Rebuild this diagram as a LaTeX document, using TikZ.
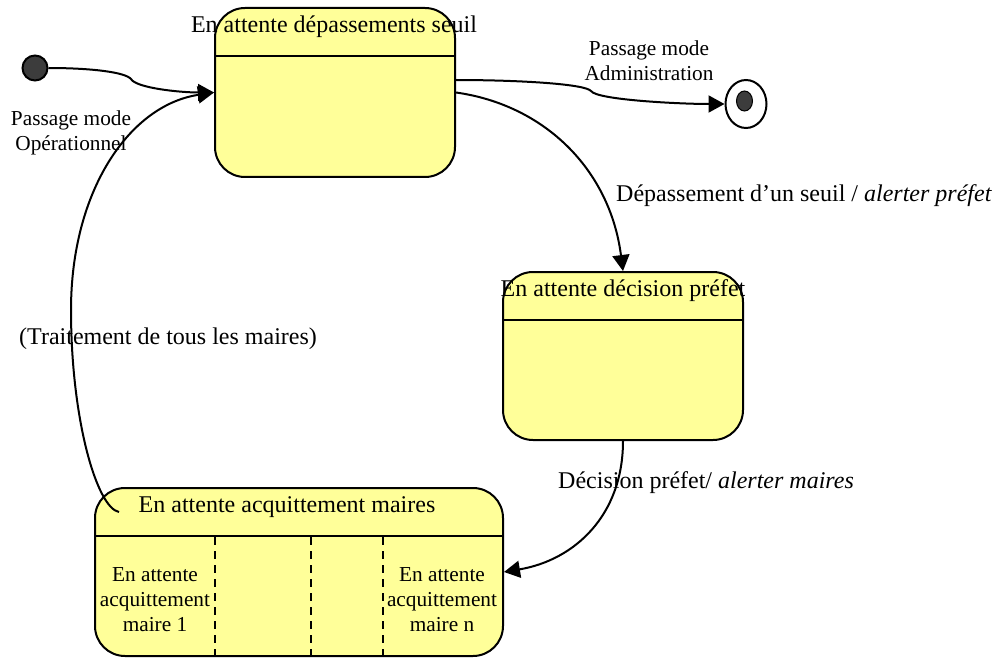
\documentclass[tikz,border=0pt]{standalone}
\usepackage{fontspec}
\setmainfont{Liberation Serif}
\usetikzlibrary{arrows.meta,shapes.geometric}
\definecolor{statefill}{HTML}{FFFF99}
\definecolor{dotfill}{HTML}{3C3C3C}
\tikzset{
  statebox/.style={draw=black,line width=2pt,fill=statefill,rounded corners=30pt,inner sep=0pt,minimum width=240pt},
  divider/.style={line width=2pt},
  pardiv/.style={line width=2pt,dash pattern=on 8pt off 6pt},
  link/.style={line width=2pt,-{Triangle[length=16pt,width=17pt]}},
  big/.style={font=\fontsize{24}{25}\selectfont,inner sep=0pt,anchor=center},
  small/.style={font=\fontsize{21.3}{25}\selectfont,inner sep=0pt,align=center,anchor=center}
}
\begin{document}
\begin{tikzpicture}[x=1pt,y=-1pt]
\useasboundingbox (0,0) rectangle (997,658);
% states
\node[statebox,minimum height=169pt] (attente) at (335,92.5) {};
\node[statebox,minimum height=168pt] (prefet) at (623,356) {};
\node[statebox,minimum width=408pt,minimum height=168pt] (maires) at (299,572) {};
% pseudo states
\node[draw=black,line width=2pt,fill=dotfill,circle,minimum size=25pt,inner sep=0pt] (init) at (35,68) {};
\node[draw=black,line width=2pt,fill=white,ellipse,minimum width=41pt,minimum height=48pt,inner sep=0pt] (fin) at (746,104) {};
\node[draw=black,line width=1pt,fill=dotfill,ellipse,minimum width=16pt,minimum height=20pt,inner sep=0pt] (findot) at (744.5,101) {};
% dividers
\coordinate (a1) at (215,56); \coordinate (a2) at (455,56);
\coordinate (p1) at (503,320); \coordinate (p2) at (743,320);
\coordinate (m1) at (95,536); \coordinate (m2) at (503,536);
\draw[divider] (a1) -- (a2);
\draw[divider] (p1) -- (p2);
\draw[divider] (m1) -- (m2);
\foreach \x in {215,311,383} \draw[pardiv] (\x,537) -- (\x,656);
% connectors
\coordinate (adminstart) at (455,80);
\coordinate (retour) at (119,512);
\draw[link] (init.east) .. controls (90,68) and (125,72) .. (131,79) .. controls (136,88) and (180,92.5) .. (attente.west);
\draw[link] (adminstart) .. controls (520,80) and (585,84) .. (591,91) .. controls (597,100) and (680,104) .. (fin.west);
\draw[link] (attente.east) .. controls (545,105) and (610,170) .. (prefet.north);
\draw[link] (prefet.south) .. controls (623,515) and (575,560) .. (maires.east);
\draw[link] (retour) .. controls (97,508) and (71,420) .. (71,310) .. controls (71,190) and (130,105) .. (attente.west);
% texts
\node[big] (t1) at (334,27) {En attente dépassements seuil};
\node[big] (t2) at (623,291) {En attente décision préfet};
\node[big] (t3) at (287,507) {En attente acquittement maires};
\node[small] (l1) at (71,132.5) {Passage mode\\Opérationnel};
\node[small] (l2) at (649,60.5) {Passage mode\\Administration};
\node[big,anchor=west] (l3) at (616,196) {Dépassement d’un seuil / \textit{alerter préfet}};
\node[big,anchor=west] (l4) at (19,339) {(Traitement de tous les maires)};
\node[big,anchor=west] (l5) at (558,483) {Décision préfet/ \textit{alerter maires}};
\node[small] (c1) at (155,600) {En attente\\acquittement\\maire 1};
\node[small] (c2) at (442,600) {En attente\\acquittement\\maire n};
\end{tikzpicture}
\end{document}
